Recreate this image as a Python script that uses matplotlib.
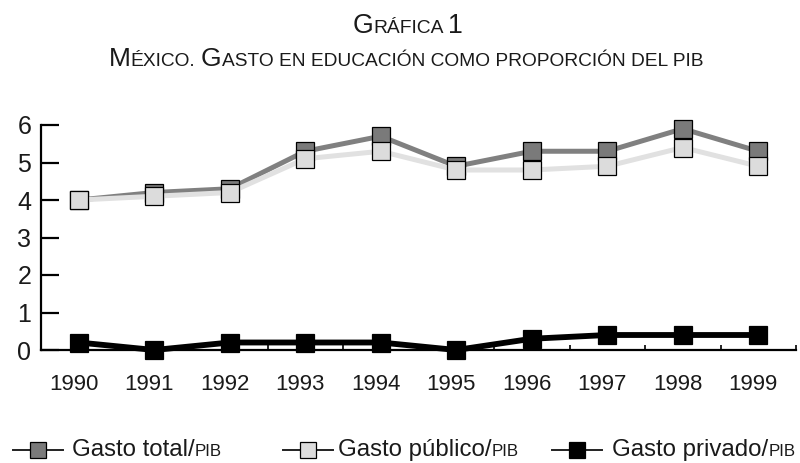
import matplotlib
matplotlib.use("Agg")
import matplotlib.pyplot as plt
import matplotlib.transforms as mtransforms
from matplotlib.lines import Line2D

years = [1990, 1991, 1992, 1993, 1994, 1995, 1996, 1997, 1998, 1999]
gasto_total = [4.0, 4.2, 4.3, 5.3, 5.7, 4.9, 5.3, 5.3, 5.9, 5.3]
gasto_publico = [4.0, 4.1, 4.2, 5.1, 5.3, 4.8, 4.8, 4.9, 5.4, 4.9]
gasto_privado = [0.2, 0.0, 0.2, 0.2, 0.2, 0.0, 0.3, 0.4, 0.4, 0.4]
y_ticks = [0, 1, 2, 3, 4, 5, 6]

NARROW = ["Liberation Sans", "DejaVu Sans"]
REG = ["Liberation Sans", "DejaVu Sans"]

W, H = 800, 463
fig = plt.figure(figsize=(8, 4.63), dpi=100)
ax = fig.add_axes([41 / W, 1 - 350 / H, (796 - 41) / W, (350 - 125) / H])

series = [
    (gasto_total, "#808080", "#7a7a7a", 3.6),
    (gasto_publico, "#e1e1e1", "#dcdcdc", 3.6),
    (gasto_privado, "#000000", "#000000", 4.2),
]
for vals, lc, fc, lw in series:
    ax.plot(years, vals, color=lc, lw=lw, marker="s", markersize=12.5,
            markerfacecolor=fc, markeredgecolor="black", markeredgewidth=0.9,
            clip_on=False, zorder=3)

ax.set_xlim(1989.5, 1999.5)
ax.set_ylim(0, 6)
for s in ["top", "right"]:
    ax.spines[s].set_visible(False)
for s in ["left", "bottom"]:
    ax.spines[s].set_linewidth(1.6)
    ax.spines[s].set_color("black")

ax.set_yticks(y_ticks)
ax.set_yticklabels([str(v) for v in y_ticks], family=REG, fontsize=18, color="#1a1a1a")
ax.tick_params(axis="y", direction="in", length=13, width=1.6, pad=7, colors="black")
for lab in ax.get_yticklabels():
    lab.set_color("#1a1a1a")

ax.set_xticks(years)
ax.set_xticklabels([str(y) for y in years], family=REG, fontsize=16, color="#1a1a1a")
ax.set_xticks([y + 0.5 for y in years], minor=True)
ax.tick_params(axis="x", which="major", length=0, pad=17)
ax.tick_params(axis="x", which="minor", direction="in", length=3.8, width=1.2)
off = mtransforms.ScaledTranslation(-5 / 100, 0, fig.dpi_scale_trans)
for lab in ax.get_xticklabels():
    lab.set_transform(lab.get_transform() + off)

fig.canvas.draw()
renderer = fig.canvas.get_renderer()


def seg_width(s, size, family):
    t1 = fig.text(0, 0, "|" + s + "|", fontsize=size, family=family)
    t2 = fig.text(0, 0, "||", fontsize=size, family=family)
    w = t1.get_window_extent(renderer).width - t2.get_window_extent(renderer).width
    t1.remove()
    t2.remove()
    return w


def draw_segments(segs, y_px, family, x0_px=None, cx_px=None, color="#1a1a1a"):
    widths = [seg_width(s, sz, family) for s, sz in segs]
    total = sum(widths)
    x = x0_px if x0_px is not None else cx_px - total / 2
    for (s, sz), w in zip(segs, widths):
        if s.strip():
            lead_str = s[: len(s) - len(s.lstrip())]
            lead = seg_width(lead_str, sz, family) if lead_str else 0
            fig.text((x + lead) / W, 1 - y_px / H, s.strip(), fontsize=sz,
                     family=family, va="baseline", ha="left", color=color)
        x += w


# Title (small caps emulation)
draw_segments([("G", 19.2), ("RÁFICA ", 13.9), ("1", 19.2)], 33, NARROW, cx_px=408)
draw_segments([("M", 19), ("ÉXICO. ", 13.8), ("G", 19),
               ("ASTO EN EDUCACIÓN COMO PROPORCIÓN DEL PIB", 13.8)], 66, NARROW, cx_px=406)

# Legend
legend_items = [
    ("Gasto total/", "#808080", "#7a7a7a", 13, 63, 72),
    ("Gasto público/", "#e1e1e1", "#dcdcdc", 283, 333, 338),
    ("Gasto privado/", "#000000", "#000000", 552, 602, 612),
]
for label, lc, fc, xl0, xl1, xt in legend_items:
    yl = 1 - 450 / H
    fig.add_artist(Line2D([xl0 / W, xl1 / W], [yl, yl], transform=fig.transFigure,
                          color="#222222", lw=1.4))
    fig.add_artist(Line2D([(xl0 + xl1) / 2 / W], [yl], transform=fig.transFigure,
                          marker="s", markersize=11, markerfacecolor=fc,
                          markeredgecolor="black", markeredgewidth=0.9, lw=0))
    draw_segments([(label, 17.3), ("PIB", 12.2)], 456, NARROW, x0_px=xt)

fig.savefig("out.png", dpi=100)
